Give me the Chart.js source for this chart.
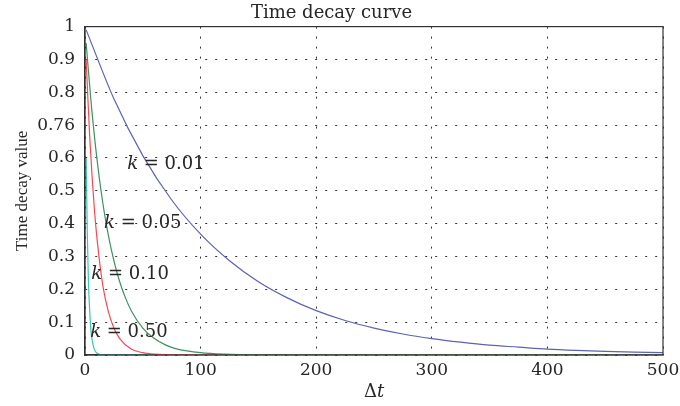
<!DOCTYPE html>
<html>
<head>
<meta charset="utf-8">
<script src="https://cdn.jsdelivr.net/npm/chart.js@4.4.1/dist/chart.umd.min.js"></script>
<style>
  html, body { margin: 0; padding: 0; background: #fff; }
  #wrap { width: 680px; height: 406px; }
</style>
</head>
<body>
<div id="wrap"><canvas id="chart"></canvas></div>
<script>
// values (Δt, time decay value)
const t001 = [1, 25, 50, 75, 100, 125, 150, 175, 200, 225, 250, 275, 300, 325, 350, 375, 400, 425, 450, 475, 500];
const v001 = [0.99, 0.78, 0.607, 0.472, 0.368, 0.287, 0.223, 0.174, 0.135, 0.105, 0.082, 0.064, 0.05, 0.039, 0.03, 0.024, 0.018, 0.014, 0.011, 0.009, 0.007];

const t005 = [1, 5, 10, 15, 20, 25, 30, 35, 40, 50, 60, 70, 80, 100, 120, 150, 500];
const v005 = [0.95, 0.78, 0.607, 0.472, 0.368, 0.287, 0.223, 0.174, 0.135, 0.082, 0.05, 0.03, 0.018, 0.007, 0.0025, 0.0005, 0];

const t010 = [1, 2, 4, 6, 8, 10, 13, 16, 20, 25, 30, 40, 50, 60, 80, 500];
const v010 = [0.9, 0.82, 0.67, 0.55, 0.45, 0.368, 0.273, 0.2, 0.135, 0.082, 0.05, 0.018, 0.007, 0.0025, 0.0003, 0];

const t050 = [1, 2, 3, 4, 5, 6, 8, 10, 15, 500];
const v050 = [0.6, 0.37, 0.22, 0.14, 0.08, 0.05, 0.018, 0.007, 0.0005, 0];

const yTickLabels = ['0', '0.1', '0.2', '0.3', '0.4', '0.5', '0.6', '0.76', '0.8', '0.9', '1'];
const xTickLabels = ['0', '100', '200', '300', '400', '500'];

const curveNames = ['0.01', '0.05', '0.10', '0.50'];
// where each "k = ..." note sits, in data units (centre of the text)
const noteSpots = [
  { x: 70, y: 0.58 },
  { x: 50, y: 0.40 },
  { x: 39, y: 0.245 },
  { x: 38, y: 0.07 }
];

const serif = "'DejaVu Serif', 'Liberation Serif', serif";

function pts(xs, ys) {
  return xs.map((x, i) => ({ x: x, y: ys[i] }));
}

const framePlugin = {
  id: 'frame',
  afterDraw(chart) {
    const ctx = chart.ctx;
    const a = chart.chartArea;
    ctx.save();
    ctx.strokeStyle = '#333';
    ctx.lineWidth = 1.2;
    ctx.setLineDash([]);
    ctx.strokeRect(a.left, a.top, a.right - a.left, a.bottom - a.top);

    // k = ... notes
    const xs = chart.scales.x, ys = chart.scales.y;
    ctx.fillStyle = '#262626';
    ctx.textBaseline = 'middle';
    noteSpots.forEach((s, i) => {
      const k = 'k';
      const rest = ' = ' + curveNames[i];
      ctx.font = 'italic 18px ' + serif;
      const wk = ctx.measureText(k).width;
      ctx.font = '18px ' + serif;
      const wr = ctx.measureText(rest).width;
      const cx = xs.getPixelForValue(s.x);
      const cy = ys.getPixelForValue(s.y);
      const x0 = cx - (wk + wr) / 2;
      ctx.font = 'italic 18px ' + serif;
      ctx.textAlign = 'left';
      ctx.fillText(k, x0, cy);
      ctx.font = '18px ' + serif;
      ctx.fillText(rest, x0 + wk, cy);
    });

    // x axis title: Δt
    ctx.font = '18px ' + serif;
    const wd = ctx.measureText('Δ').width;
    ctx.font = 'italic 18px ' + serif;
    const wt = ctx.measureText('t').width;
    const mx = (a.left + a.right) / 2 - (wd + wt) / 2;
    ctx.font = '18px ' + serif;
    ctx.fillText('Δ', mx, 392);
    ctx.font = 'italic 18px ' + serif;
    ctx.fillText('t', mx + wd, 392);
    ctx.restore();
  }
};

const ctx = document.getElementById('chart').getContext('2d');
const myChart = new Chart(ctx, {
  type: 'line',
  data: {
    datasets: [
      { label: 'k = 0.01', data: pts(t001, v001), borderColor: '#5b63b3' },
      { label: 'k = 0.05', data: pts(t005, v005), borderColor: '#3d9160' },
      { label: 'k = 0.10', data: pts(t010, v010), borderColor: '#f44a4f' },
      { label: 'k = 0.50', data: pts(t050, v050), borderColor: '#3cc4b4' }
    ]
  },
  options: {
    responsive: true,
    maintainAspectRatio: false,
    animation: false,
    layout: { padding: { left: 0, right: 17, top: 0, bottom: 0 } },
    elements: {
      point: { radius: 0 },
      line: { borderWidth: 1.2, cubicInterpolationMode: 'monotone', fill: false }
    },
    plugins: {
      legend: { display: false },
      tooltip: { enabled: false },
      title: {
        display: true,
        text: 'Time decay curve',
        color: '#262626',
        font: { family: serif, size: 18, weight: 'normal' },
        padding: { top: 3, bottom: 2 }
      }
    },
    scales: {
      x: {
        type: 'linear',
        min: 0,
        max: 500,
        afterFit: function(scale) {
          scale.height = 51;
          scale.paddingLeft = 0;
          scale.paddingRight = 0;
        },
        ticks: {
          stepSize: 100,
          padding: 5,
          color: '#262626',
          font: { family: serif, size: 17 },
          maxRotation: 0,
          callback: function(value, index) { return xTickLabels[index]; }
        },
        grid: { color: '#333', lineWidth: 1, drawTicks: false },
        border: { color: '#333', width: 1.2, dash: [2, 8] }
      },
      y: {
        min: 0,
        max: 1,
        afterFit: function(scale) { scale.width = 85; },
        ticks: {
          stepSize: 0.1,
          padding: 10,
          color: '#262626',
          font: { family: serif, size: 17 },
          callback: function(value, index) { return yTickLabels[index]; }
        },
        title: {
          display: true,
          text: 'Time decay value',
          color: '#262626',
          font: { family: "'Liberation Serif', serif", size: 17 },
          padding: { top: 12, bottom: 0 }
        },
        grid: { color: '#333', lineWidth: 1, drawTicks: false },
        border: { color: '#333', width: 1.2, dash: [2, 8] }
      }
    }
  },
  plugins: [framePlugin]
});
</script>
</body>
</html>
